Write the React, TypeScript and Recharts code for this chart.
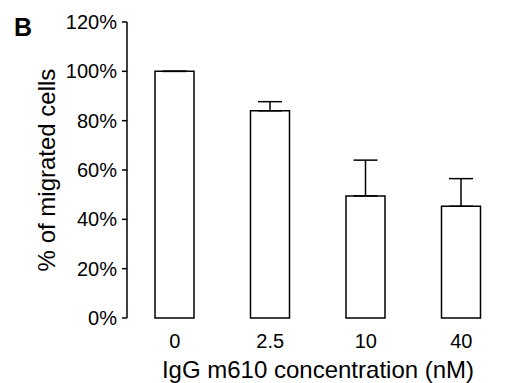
import { Bar, BarChart, ErrorBar, Label, XAxis, YAxis } from "recharts"

const concentrations = ["0", "2.5", "10", "40"]
const migrated = [100, 84, 49.5, 45.3]
const errorUp = [0, 3.7, 14.5, 11.2]
const yTicks = [0, 20, 40, 60, 80, 100, 120]
const edgeTicks = [0, 1, 2, 3, 4]

const data = concentrations.map((c, i) => ({
    conc: c,
    value: migrated[i],
    err: [0, errorUp[i]],
}))

const font = "'Liberation Sans', Arial, Helvetica, sans-serif"

export default function App() {
    return (
        <div style={{ position: "absolute", left: 0, top: 0, width: 508, height: 383, overflow: "hidden", background: "#fff", fontFamily: font }}>
            <div style={{ position: "absolute", left: 14, top: 15, fontSize: 25, fontWeight: "bold", color: "#000", lineHeight: "25px" }}>B</div>
            <BarChart
                width={512}
                height={383}
                data={data}
                margin={{ top: 22, right: 3, bottom: 0, left: 0 }}
                barSize={39}
            >
                <XAxis
                    dataKey="conc"
                    axisLine={false}
                    tickLine={false}
                    tickSize={0}
                    tickMargin={16}
                    height={65}
                    tick={{ fill: "#000", fontSize: 20, fontFamily: font }}
                >
                    <Label value="IgG m610 concentration (nM)" position="insideBottom" offset={5} style={{ fill: "#000", fontSize: 24, fontFamily: font }} />
                </XAxis>
                <XAxis
                    xAxisId="edges"
                    type="number"
                    domain={[0, 4]}
                    ticks={edgeTicks}
                    tick={false}
                    height={0}
                    tickSize={5}
                    stroke="#000"
                    axisLine={{ stroke: "#000", strokeWidth: 1.5 }}
                    tickLine={{ stroke: "#000", strokeWidth: 1.5 }}
                />
                <YAxis
                    width={127}
                    domain={[0, 120]}
                    ticks={yTicks}
                    interval={0}
                    tickFormatter={(v) => `${v}%`}
                    tickSize={5}
                    tickMargin={5}
                    axisLine={{ stroke: "#000", strokeWidth: 1.5 }}
                    tickLine={{ stroke: "#000", strokeWidth: 1.5 }}
                    tick={{ fill: "#000", fontSize: 20, fontFamily: font }}
                >
                    <Label value="% of migrated cells" angle={-90} position="center" dx={-17} style={{ fill: "#000", fontSize: 24, fontFamily: font, textAnchor: "middle" }} />
                </YAxis>
                <Bar dataKey="value" fill="#fff" stroke="#000" strokeWidth={1.5} isAnimationActive={false}>
                    <ErrorBar dataKey="err" width={12} stroke="#000" strokeWidth={1.5} direction="y" isAnimationActive={false} />
                </Bar>
            </BarChart>
        </div>
    )
}
